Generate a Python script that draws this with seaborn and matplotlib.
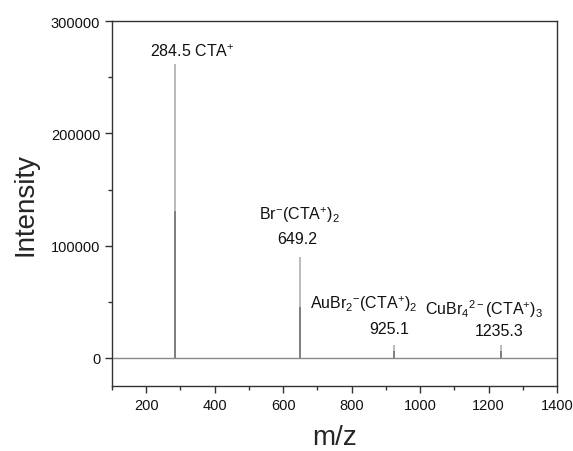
import seaborn as sns
import matplotlib.pyplot as plt
from matplotlib.ticker import MultipleLocator

# peak data
mz = [284.5, 649.2, 925.1, 1235.3]
intensity = [262000, 90000, 11500, 11500]
ion_labels = [r'284.5 CTA$^{+}$',
              r'Br$^{-}$(CTA$^{+}$)$_{2}$',
              r'AuBr$_{2}$$^{-}$(CTA$^{+}$)$_{2}$',
              r'CuBr$_{4}$$^{2-}$(CTA$^{+}$)$_{3}$']
mz_labels = ['', '649.2', '925.1', '1235.3']

sns.set_style('ticks')
plt.rcParams['font.family'] = ['Liberation Sans', 'DejaVu Sans']
plt.rcParams['mathtext.fontset'] = 'custom'
plt.rcParams['mathtext.rm'] = 'Liberation Sans'
plt.rcParams['mathtext.it'] = 'Liberation Sans'

fig = plt.figure(figsize=(5.73, 4.52), dpi=100)
ax = fig.add_axes([0.1955, 0.144, 0.7765, 0.807])

# baseline
ax.axhline(0, color='#888888', lw=1.0, zorder=1)
# sticks: light full-height line plus darker lower half
ax.vlines(mz, 0, intensity, color='#b5b5b5', lw=1.3, zorder=2)
ax.vlines(mz, 0, [v / 2 for v in intensity], color='#7a7a7a', lw=1.3, zorder=3)

# annotations
ion_pos = [(335, 274000), (646, 128000), (836, 48500), (1188, 44000)]
mz_pos = [None, (640, 106000), (910, 26500), (1232, 24000)]
for lab, p in zip(ion_labels, ion_pos):
    ax.text(p[0], p[1], lab, ha='center', va='center', fontsize=11.5, color='#111111')
for lab, p in zip(mz_labels, mz_pos):
    if p is not None:
        ax.text(p[0], p[1], lab, ha='center', va='center', fontsize=11.5, color='#111111')

ax.set_xlim(100, 1400)
ax.set_ylim(-25000, 300000)
ax.xaxis.set_major_locator(MultipleLocator(200))
ax.xaxis.set_minor_locator(MultipleLocator(100))
ax.yaxis.set_major_locator(MultipleLocator(100000))
ax.yaxis.set_minor_locator(MultipleLocator(50000))
ax.set_xticks([200, 400, 600, 800, 1000, 1200, 1400])
ax.tick_params(which='major', direction='out', length=5, width=1, labelsize=10.5,
               colors='#333333', labelcolor='#111111')
ax.tick_params(which='minor', direction='out', length=3, width=1, colors='#333333')
for s in ax.spines.values():
    s.set_color('#333333')
    s.set_linewidth(1.0)

ax.set_xlabel('m/z', fontsize=20, labelpad=9)
ax.set_ylabel('Intensity', fontsize=20, labelpad=9)

fig.savefig('out.png', dpi=100)
